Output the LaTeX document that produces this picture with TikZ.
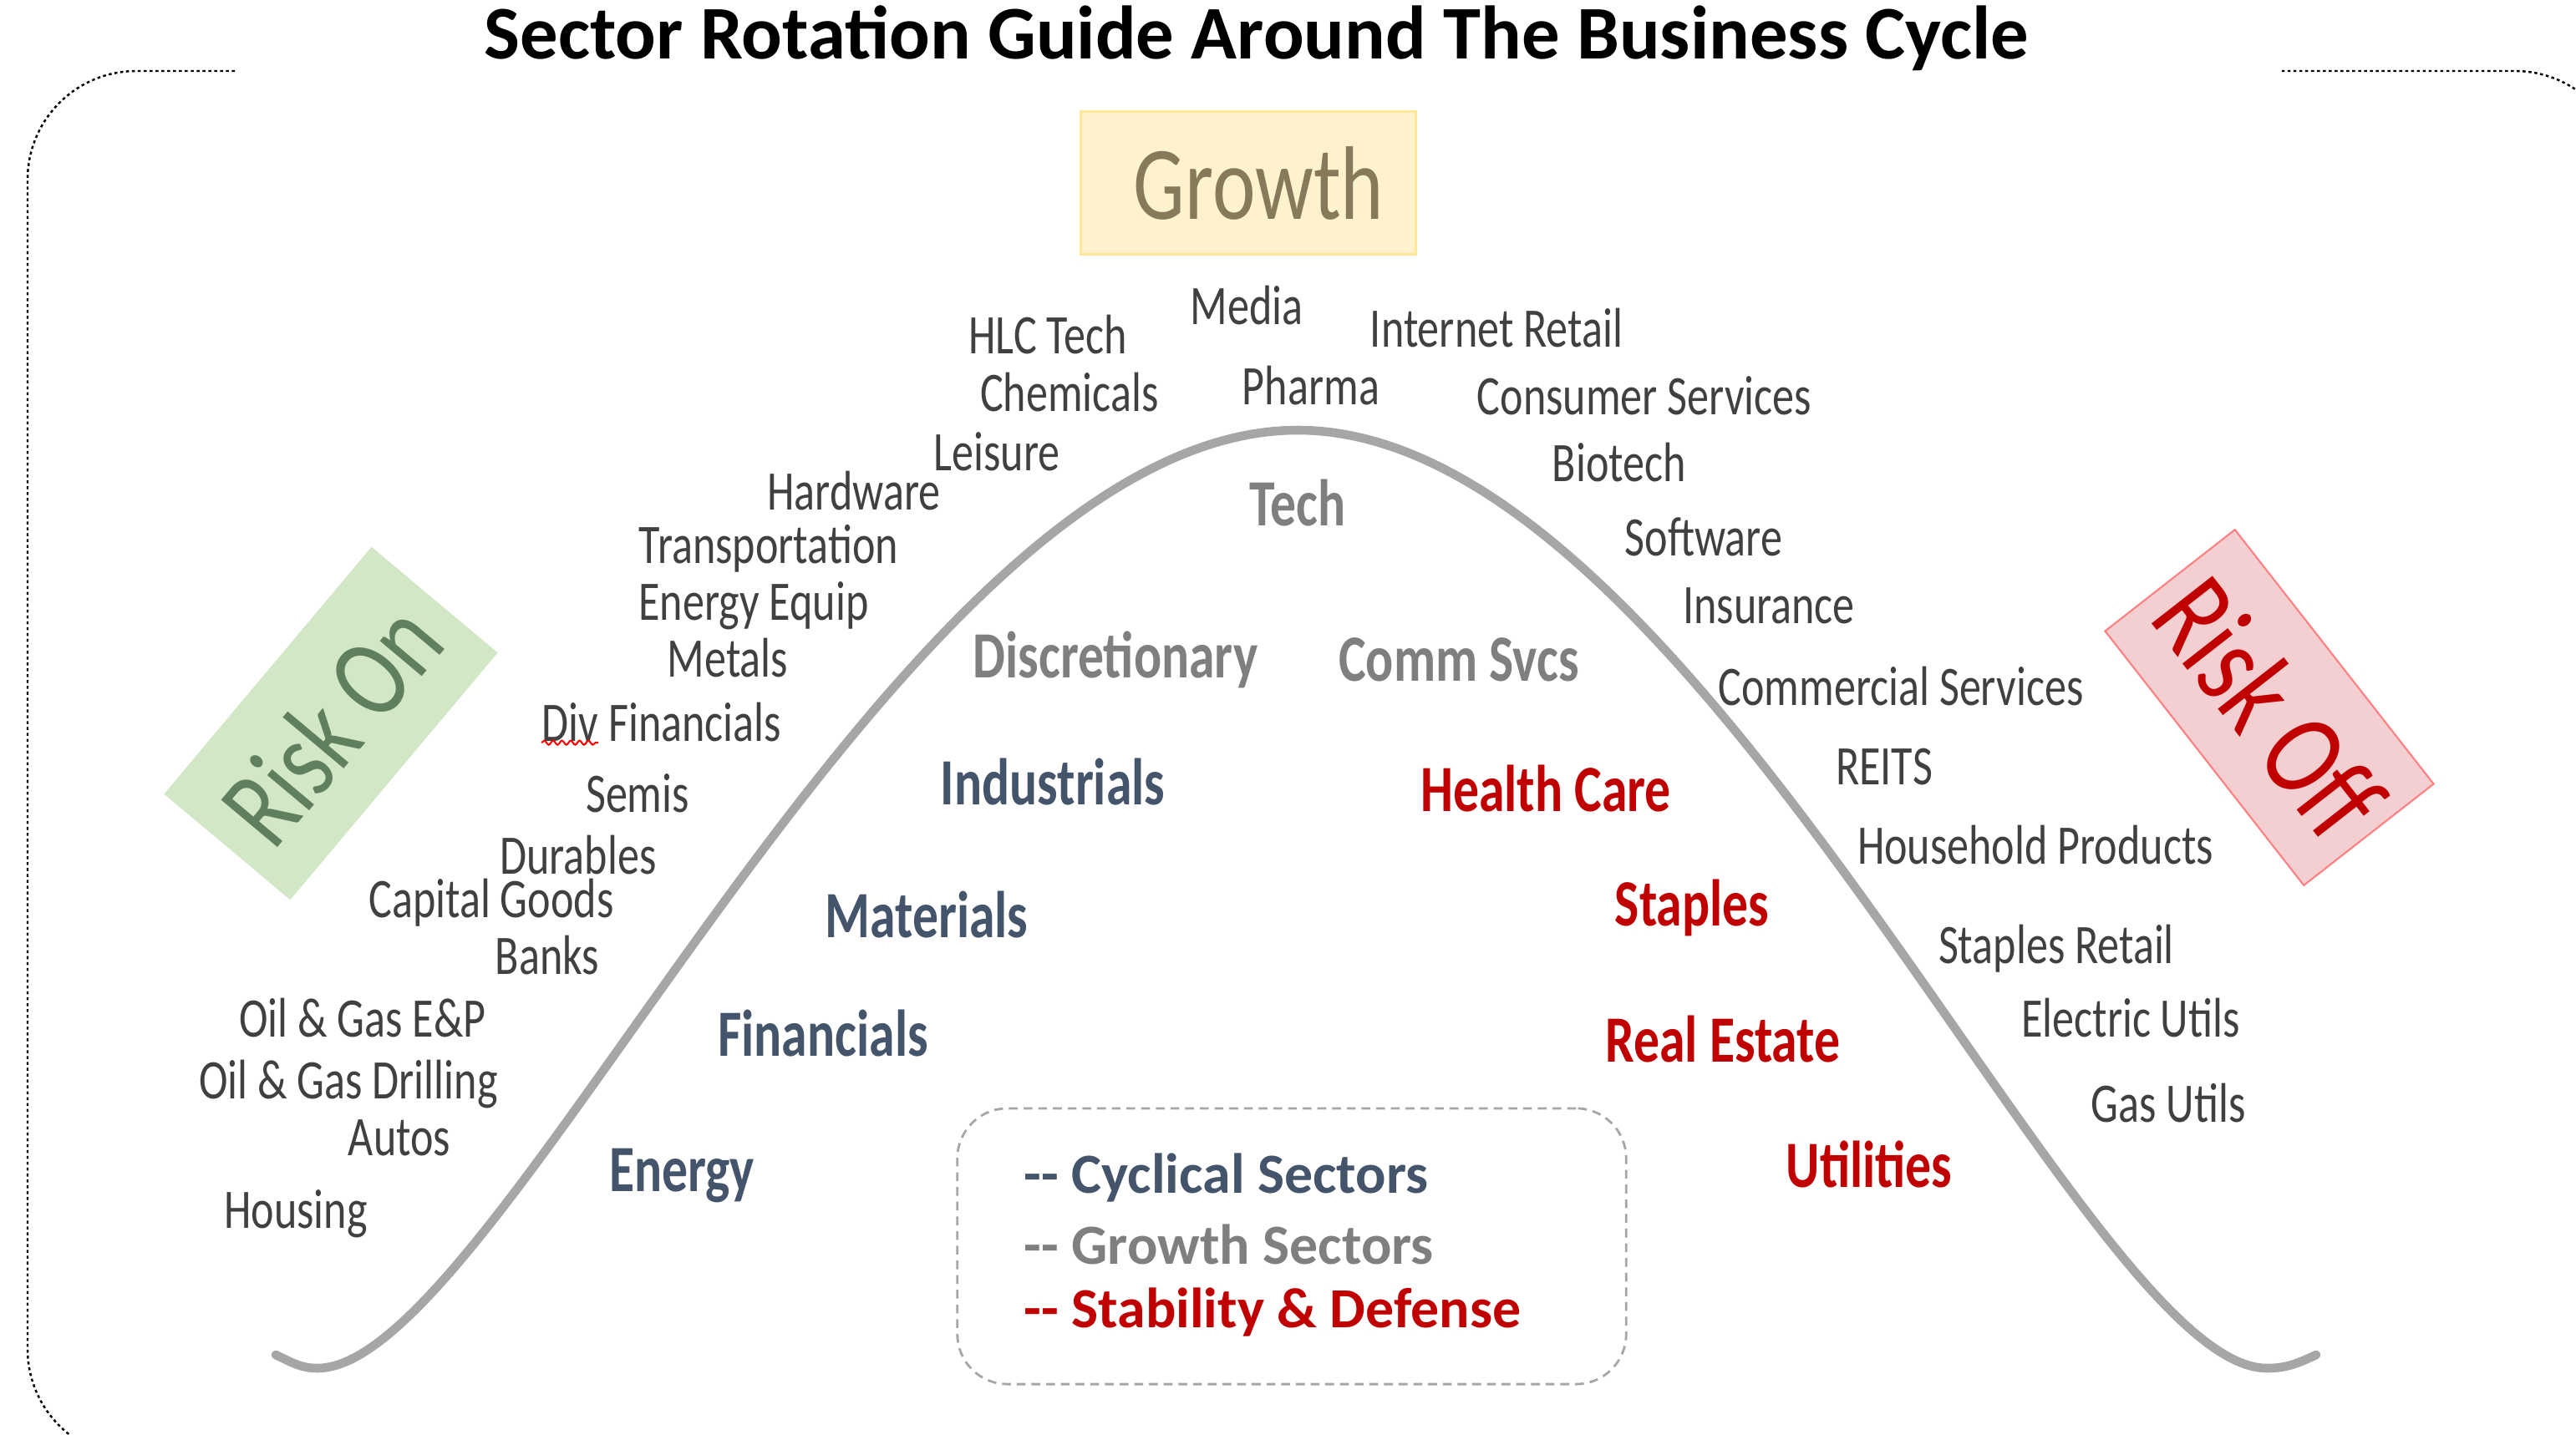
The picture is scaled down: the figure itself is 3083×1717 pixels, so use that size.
\documentclass[tikz,border=0pt]{standalone}
\usepackage{fontspec}
\setmainfont{Carlito}
\newfontfamily\handfont[FakeStretch=0.78]{Carlito}
\usetikzlibrary{decorations.pathmorphing}

\definecolor{sectorgray}{HTML}{404040}
\definecolor{growthgray}{HTML}{7F7F7F}
\definecolor{cycblue}{HTML}{44546A}
\definecolor{defred}{HTML}{C00000}
\definecolor{curvegray}{HTML}{A6A6A6}
\definecolor{legendgray}{HTML}{A6A6A6}
\definecolor{growthfill}{HTML}{FFF2CC}
\definecolor{growthedge}{HTML}{FFE699}
\definecolor{growthtext}{HTML}{857A5A}
\definecolor{onfill}{HTML}{D2E7C6}
\definecolor{ontext}{HTML}{5F7F5F}
\definecolor{offfill}{HTML}{F3CFD1}
\definecolor{offedge}{HTML}{FF8080}

\tikzset{
  sector/.style={font=\handfont\fontsize{19}{22}\selectfont, text=sectorgray, inner sep=0pt},
  growthsec/.style={font=\handfont\bfseries\fontsize{22.5}{26}\selectfont, text=growthgray, inner sep=0pt},
  cyclical/.style={font=\handfont\bfseries\fontsize{22.5}{26}\selectfont, text=cycblue, inner sep=0pt},
  defensive/.style={font=\handfont\bfseries\fontsize{22.5}{26}\selectfont, text=defred, inner sep=0pt},
  legendline/.style={anchor=west, font=\bfseries\fontsize{19.3}{22}\selectfont, inner sep=0pt},
  riskbox/.style={minimum width=3.86cm, minimum height=1.97cm, inner sep=0pt},
}

\begin{document}
\begin{tikzpicture}[x=0.01cm,y=-0.01cm]
  \useasboundingbox (0,0) rectangle (3083,1717);
  \clip (0,0) rectangle (3083,1717);

  % outer frame, left open at the top for the title
  \draw[dash pattern=on 1pt off 1pt, line width=0.7pt, rounded corners=1.3cm]
    (281,85) -- (33,85) -- (33,1745) -- (3140,1745) -- (3140,85) -- (2729,85);

  \node (title) at (1504,46) {\bfseries\fontsize{25.8}{30}\selectfont Sector Rotation Guide Around The Business Cycle};

  % phase boxes
  \node (growth) at (1494,219) [draw=growthedge, line width=1pt, fill=growthfill,
    minimum width=4.01cm, minimum height=1.71cm, text=growthtext,
    font=\handfont\fontsize{35.6}{40}\selectfont] {\hspace*{0.25cm}Growth};
  \node (riskon) at (396,866) [riskbox, rotate=50, fill=onfill, text=ontext,
    font=\handfont\fontsize{39}{44}\selectfont] {Risk On};
  \node (riskoff) at (2716,847) [riskbox, rotate=-52, fill=offfill, draw=offedge, line width=0.6pt,
    text=defred, font=\handfont\fontsize{41}{46}\selectfont] {Risk Off};

  % the cycle
  \coordinate (startl) at (330,1622);
  \coordinate (troughl) at (380,1638);
  \coordinate (peak) at (1553,515);
  \coordinate (troughr) at (2713,1638);
  \coordinate (endr) at (2772,1622);
  \draw[curvegray, line width=3pt, line cap=round]
    (startl) to[out=-25,in=180] (troughl)
    .. controls (600,1638) and (1073,515) .. (peak)
    .. controls (2033,515) and (2493,1638) .. (troughr)
    to[out=0,in=205] (endr);

  % industries along the cycle
  \node (hlctech) at (1254,401) [sector] {HLC Tech};
  \node (media) at (1492,366) [sector] {Media};
  \node (internet) at (1791,393) [sector] {Internet Retail};
  \node (chemicals) at (1280,470) [sector] {Chemicals};
  \node (pharma) at (1569,462) [sector] {Pharma};
  \node (consumer) at (1968,474) [sector] {Consumer Services};
  \node (leisure) at (1193,541) [sector] {Leisure};
  \node (biotech) at (1938,554) [sector] {Biotech};
  \node (hardware) at (1022,588) [sector] {Hardware};
  \node (software) at (2039,643) [sector] {Software};
  \node (transport) at (920,657) [sector] {Transportation};
  \node (energyequip) at (902,725) [sector] {Energy Equip};
  \node (insurance) at (2117,725) [sector] {Insurance};
  \node (metals) at (871,788) [sector] {Metals};
  \node (commercial) at (2275,822) [sector] {Commercial Services};
  \node (divfin) at (792,865) [sector] {Div Financials};
  \node (reits) at (2255,918) [sector] {REITS};
  \node (semis) at (763,950) [sector] {Semis};
  \node (household) at (2436,1012) [sector] {Household Products};
  \node (durables) at (692,1024) [sector] {Durables};
  \node (capgoods) at (588,1081) [sector] {Capital Goods};
  \node (stapret) at (2461,1136) [sector] {Staples Retail};
  \node (banks) at (655,1144) [sector] {Banks};
  \node (oilep) at (434,1219) [sector] {Oil \& Gas E\&P};
  \node (electric) at (2550,1219) [sector] {Electric Utils};
  \node (oildrill) at (417,1298) [sector] {Oil \& Gas Drilling};
  \node (gasutil) at (2595,1321) [sector] {Gas Utils};
  \node (autos) at (478,1362) [sector] {Autos};
  \node (housing) at (354,1453) [sector] {Housing};

  % spell-check squiggle under Div
  \draw[red, line width=0.6pt, decorate, decoration={snake, amplitude=0.7pt, segment length=3pt}]
    (divfin.south west) -- ++(68,0);

  % sectors inside the cycle
  \node (tech) at (1553,602) [growthsec] {Tech};
  \node (discr) at (1335,790) [growthsec] {Discretionary};
  \node (comm) at (1746,790) [growthsec] {Comm Svcs};

  \node (industrials) at (1260,936) [cyclical] {Industrials};
  \node (materials) at (1109,1095) [cyclical] {Materials};
  \node (financials) at (985,1237) [cyclical] {Financials};
  \node (energy) at (816,1408) [cyclical] {Energy};

  \node (health) at (1850,944) [defensive] {Health Care};
  \node (staples) at (2025,1087) [defensive] {Staples};
  \node (realest) at (2062,1244) [defensive] {Real Estate};
  \node (utilities) at (2237,1394) [defensive] {Utilities};

  % legend
  \node (legendbox) at (1546,1492) [draw=legendgray, line width=0.8pt, dash pattern=on 3pt off 2pt,
    rounded corners=0.6cm, minimum width=8cm, minimum height=3.3cm] {};
  \node (legcyc) at (1225,1410) [legendline, text=cycblue] {-{}- Cyclical Sectors};
  \node (leggrowth) at (1225,1490) [legendline, text=growthgray] {-{}- Growth Sectors};
  \node (legdef) at (1225,1571) [legendline, text=defred] {-{}- Stability \& Defense};
\end{tikzpicture}
\end{document}
